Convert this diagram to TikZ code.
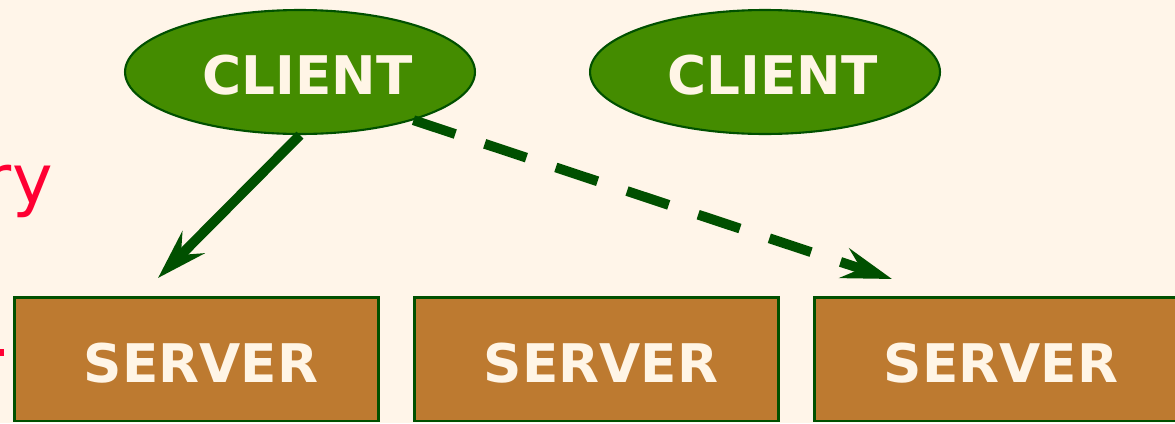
\documentclass[tikz,border=0pt]{standalone}
\usepackage{fontspec}
\setmainfont{DejaVu Sans}
\usetikzlibrary{arrows.meta,shapes.geometric}
\definecolor{bg}{HTML}{FFF5E9}
\definecolor{cfill}{HTML}{448C00}
\definecolor{dgreen}{HTML}{005000}
\definecolor{sfill}{HTML}{BD7A30}
\definecolor{cream}{HTML}{FFF5E6}
\definecolor{redtxt}{HTML}{FF0033}
\tikzset{
  clientnode/.style={ellipse,draw=dgreen,line width=1.2pt,fill=cfill,minimum width=7cm,minimum height=2.48cm,inner sep=0pt,
    text=cream,font=\fontsize{30.3}{30.3}\selectfont\bfseries,text height=0.90cm,text depth=0cm},
  servernode/.style={rectangle,draw=dgreen,line width=1.7pt,fill=sfill,minimum width=7.3cm,minimum height=2.48cm,inner sep=0pt,
    text=cream,font=\fontsize{30.3}{30.3}\selectfont\bfseries,text height=0.92cm,text depth=0cm},
  conn/.style={draw=dgreen,line width=5.6pt,-{Stealth[length=1cm,width=0.62cm,inset=0.35cm]}},
}
\begin{document}
\begin{tikzpicture}[x=0.02cm,y=-0.02cm]
\fill[bg] (0,0) rectangle (1175,423);
\useasboundingbox (0,0) rectangle (1175,423);
\node[clientnode] (c1) at (300,72) {\hspace{0.3cm}CLIENT};
\node[clientnode] (c2) at (765,72) {\hspace{0.3cm}CLIENT};
\node[servernode] (s1) at (196.5,359) {\hspace{0.18cm}SERVER};
\node[servernode] (s2) at (596.5,359) {\hspace{0.18cm}SERVER};
\node[servernode] (s3) at (996.5,359) {\hspace{0.18cm}SERVER};
\node[anchor=base east,text=redtxt,inner sep=0pt,font=\fontsize{39}{39}\selectfont] (lbl) at (53,203) {ry};
\fill[redtxt] (-10,349) rectangle (4,356);
\coordinate (t1) at (158,278);
\coordinate (t2) at (892,279);
\draw[conn] (c1.south) -- (t1);
\draw[conn,dash pattern=on 0.88cm off 0.62cm] (c1.-23) -- (t2);
\end{tikzpicture}
\end{document}
